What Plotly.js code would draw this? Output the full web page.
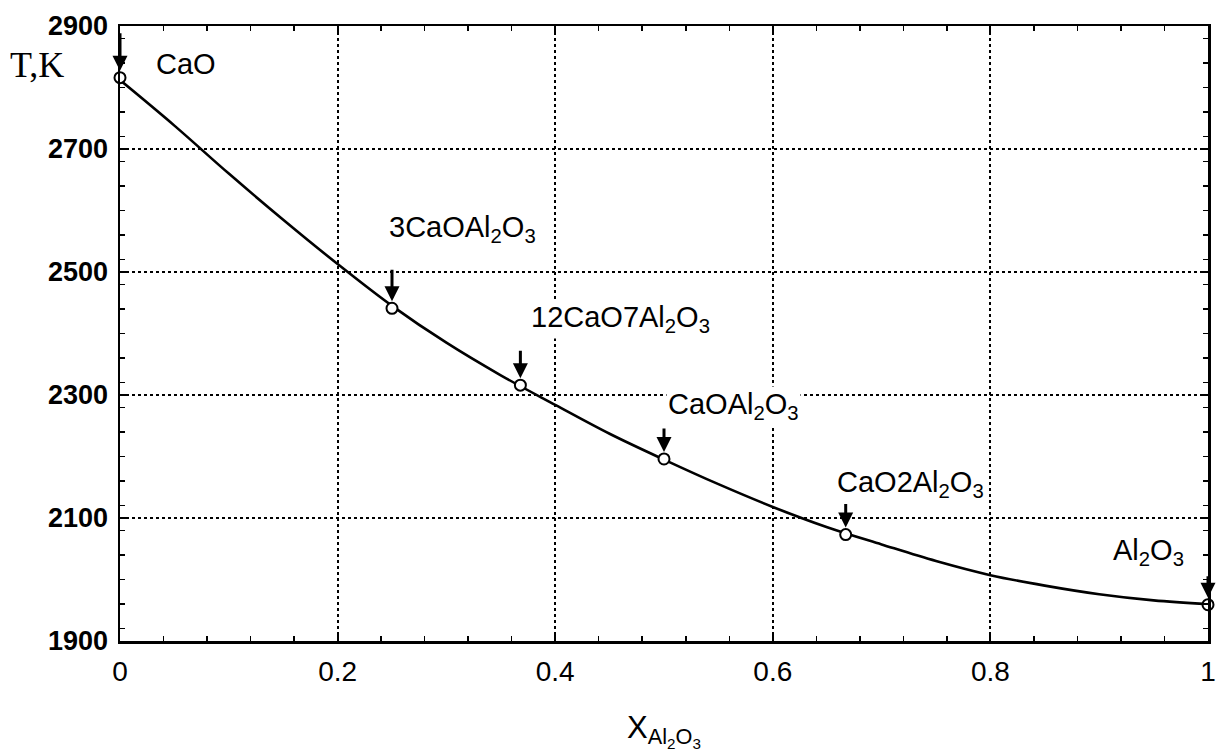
<!DOCTYPE html>
<html>
<head>
<meta charset="utf-8">
<script src="https://cdn.plot.ly/plotly-3.0.1.min.js"></script>
<style>html,body{margin:0;padding:0;background:#fff;}#chart{width:1220px;height:753px;}</style>
</head>
<body>
<div id="chart"></div>
<script>
// Liquidus curve
const curveX = [0, 0.05, 0.1, 0.15, 0.2, 0.25, 0.3, 0.35, 0.4, 0.45, 0.5, 0.55, 0.6, 0.65, 0.7, 0.75, 0.8, 0.85, 0.9, 0.95, 1.0];
const curveT = [2812, 2738, 2660, 2585, 2513, 2445, 2385, 2332, 2284, 2237, 2195, 2155, 2118, 2085, 2057, 2030, 2007, 1990, 1976, 1966, 1960];

// Compound melting points (open circles)
const compoundNames = ["CaO", "3CaOAl<sub>2</sub>O<sub>3</sub>", "12CaO7Al<sub>2</sub>O<sub>3</sub>", "CaOAl<sub>2</sub>O<sub>3</sub>", "CaO2Al<sub>2</sub>O<sub>3</sub>", "Al<sub>2</sub>O<sub>3</sub>"];
const compoundX = [0, 0.25, 0.368, 0.5, 0.667, 1.0];
const compoundT = [2816, 2441, 2316, 2196, 2073, 1959];

// Label anchor positions (data coordinates)
const labelX = [0.061, 0.315, 0.46, 0.564, 0.727, 0.945];
const labelT = [2838, 2570, 2423, 2282, 2156, 2044];
const arrowLen = [-46, -40, -36, -32, -32, -30];

const yTicks = [1900, 2100, 2300, 2500, 2700, 2900];
const xTicks = [0, 0.2, 0.4, 0.6, 0.8, 1];
const xTickText = ["0", "0.2", "0.4", "0.6", "0.8", "1"];

const traces = [
  {x: curveX, y: curveT, mode: 'lines', line: {color: '#000', width: 2.6, shape: 'spline', smoothing: 1}, hoverinfo: 'skip'},
  {x: compoundX, y: compoundT, mode: 'markers', cliponaxis: false,
   marker: {symbol: 'circle', size: 11, color: '#fff', line: {color: '#000', width: 2}}}
];

const annotations = [];
compoundNames.forEach((n, i) => {
  annotations.push({x: labelX[i], y: labelT[i], xref: 'x', yref: 'y', text: n, showarrow: false,
    font: {family: 'Liberation Sans, Arial', size: 29, color: '#000'}, bgcolor: '#fff', xanchor: 'center', yanchor: 'middle'});
  annotations.push({x: compoundX[i], y: compoundT[i], xref: 'x', yref: 'y', text: '', showarrow: true,
    ax: 0, ay: arrowLen[i], arrowhead: 2, arrowsize: 1, arrowwidth: 3, arrowcolor: '#000', standoff: 7});
});
annotations.push({xref: 'paper', yref: 'paper', x: -0.103, y: 0.972, xanchor: 'left', yanchor: 'top', showarrow: false,
  text: 'T,K', font: {family: 'Liberation Serif, Times New Roman', size: 36, color: '#000'}});

const layout = {
  width: 1220, height: 753,
  margin: {l: 120, r: 12, t: 26, b: 112},
  paper_bgcolor: '#fff', plot_bgcolor: '#fff',
  showlegend: false,
  xaxis: {
    range: [0, 1], tickvals: xTicks, ticktext: xTickText,
    showline: true, linecolor: '#000', linewidth: 2.5, mirror: 'allticks',
    ticks: 'inside', ticklen: 6, tickwidth: 2, tickcolor: '#000',
    showgrid: true, gridcolor: '#000', gridwidth: 2, griddash: 'dot',
    minor: {dtick: 0.04, ticks: 'inside', ticklen: 5, tickwidth: 1.5, tickcolor: '#000', showgrid: false},
    zeroline: false,
    tickfont: {family: 'Liberation Sans, Arial', size: 28, color: '#000'},
    ticklabelstandoff: 4,
    title: {text: 'X<sub>Al<sub>2</sub>O<sub>3</sub></sub>', font: {family: 'Liberation Sans, Arial', size: 31, color: '#000'}, standoff: 30}
  },
  yaxis: {
    range: [1900, 2900], tickvals: yTicks,
    showline: true, linecolor: '#000', linewidth: 2.5, mirror: 'allticks',
    ticks: 'inside', ticklen: 6, tickwidth: 2, tickcolor: '#000',
    showgrid: true, gridcolor: '#000', gridwidth: 2, griddash: 'dot',
    minor: {dtick: 40, ticks: 'inside', ticklen: 5, tickwidth: 1.5, tickcolor: '#000', showgrid: false},
    zeroline: false,
    tickfont: {family: 'Liberation Sans, Arial', size: 27, color: '#000', weight: 'bold'},
    ticklabelstandoff: 4
  },
  annotations: annotations
};

Plotly.newPlot('chart', traces, layout, {displayModeBar: false, staticPlot: true});
</script>
</body>
</html>
